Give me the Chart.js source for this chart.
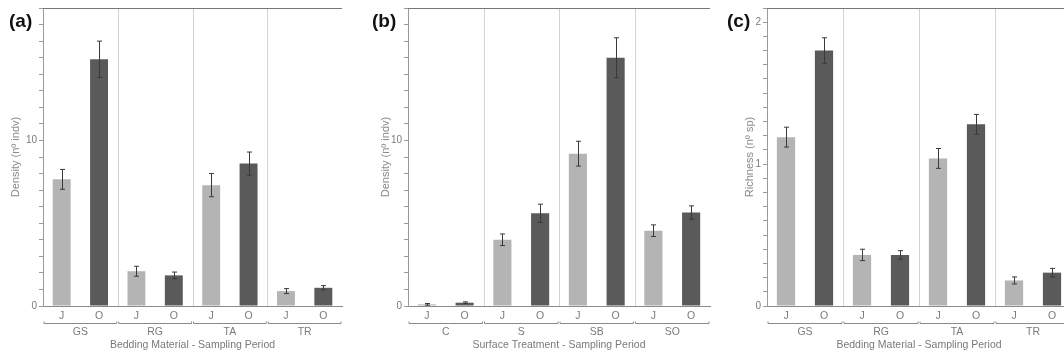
<!DOCTYPE html>
<html><head><meta charset="utf-8">
<script src="https://cdn.jsdelivr.net/npm/chart.js@4"></script>
<style>
html,body{margin:0;padding:0;width:1064px;height:359px;overflow:hidden;background:#fff;position:relative;}
canvas{position:absolute;top:0;}
</style></head><body>
<canvas id="ca" width="355" height="359" style="left:0px"></canvas>
<canvas id="cb" width="357" height="359" style="left:355px"></canvas>
<canvas id="cc" width="362" height="359" style="left:712px"></canvas>
<script>
// ---- data ----
const periods = ['J','O','J','O','J','O','J','O'];
const beddingGroups = ['GS','RG','TA','TR'];
const surfaceGroups = ['C','S','SB','SO'];
const densityBedding    = [7.65, 14.9, 2.1, 1.85, 7.3, 8.6, 0.9, 1.1];
const densityBeddingErr = [0.6, 1.1, 0.3, 0.2, 0.7, 0.7, 0.15, 0.13];
const densitySurface    = [0.1, 0.2, 4.0, 5.6, 9.2, 15.0, 4.55, 5.65];
const densitySurfaceErr = [0.05, 0.05, 0.35, 0.55, 0.75, 1.2, 0.35, 0.4];
const richnessBedding    = [1.19, 1.80, 0.36, 0.36, 1.04, 1.28, 0.18, 0.235];
const richnessBeddingErr = [0.07, 0.09, 0.04, 0.03, 0.07, 0.07, 0.025, 0.03];
const densityTickLabels = [0, 10];
const richnessTickLabels = [0, 1, 2];

const colJ = '#b4b4b4', colO = '#5a5a5a';
const FONT = '"Liberation Sans", Arial, sans-serif';

const decor = {
  id: 'decor',
  beforeDatasetsDraw(chart, args, o) {
    const {ctx, chartArea: {left, right, top, bottom}, scales: {x}} = chart;
    ctx.save();
    ctx.strokeStyle = '#d2d2d2'; ctx.lineWidth = 1;
    for (let g = 1; g < o.groups.length; g++) {
      const px = Math.round((x.getPixelForValue(2*g-1) + x.getPixelForValue(2*g)) / 2) + 0.5;
      ctx.beginPath(); ctx.moveTo(px, top); ctx.lineTo(px, bottom); ctx.stroke();
    }
    ctx.strokeStyle = '#777'; ctx.lineWidth = 1.2;
    ctx.beginPath(); ctx.moveTo(left, top + 0.5); ctx.lineTo(right, top + 0.5); ctx.stroke();
    ctx.restore();
  },
  afterDatasetsDraw(chart, args, o) {
    const {ctx, scales: {x, y}} = chart;
    const data = chart.data.datasets[0].data;
    ctx.save();
    ctx.strokeStyle = '#3a3a3a'; ctx.lineWidth = 1;
    data.forEach((v, i) => {
      const e = o.err[i];
      const px = Math.round(x.getPixelForValue(i)) + 0.5;
      const y1 = y.getPixelForValue(v + e), y2 = y.getPixelForValue(Math.max(0, v - e));
      ctx.beginPath();
      ctx.moveTo(px, y1); ctx.lineTo(px, y2);
      ctx.moveTo(px - 2.5, y1); ctx.lineTo(px + 2.5, y1);
      ctx.moveTo(px - 2.5, y2); ctx.lineTo(px + 2.5, y2);
      ctx.stroke();
    });
    ctx.restore();
  },
  afterDraw(chart, args, o) {
    const {ctx, chartArea: {bottom}, scales: {x}} = chart;
    ctx.save();
    const n = o.groups.length;
    const step = (x.getPixelForValue(1) - x.getPixelForValue(0));
    for (let g = 0; g < n; g++) {
      const x0 = x.getPixelForValue(2*g) - step/2 + 1;
      const x1 = x.getPixelForValue(2*g+1) + step/2 - 1;
      const yy = bottom + 17.5;
      ctx.strokeStyle = '#8a8a8a'; ctx.lineWidth = 1;
      ctx.beginPath();
      ctx.moveTo(x0, yy - 2); ctx.lineTo(x0, yy); ctx.lineTo(x1, yy); ctx.lineTo(x1, yy - 2);
      ctx.stroke();
      ctx.fillStyle = '#7a7a7a';
      ctx.font = '10.5px ' + FONT;
      ctx.textAlign = 'center'; ctx.textBaseline = 'middle';
      ctx.fillText(o.groups[g], (x0 + x1) / 2, bottom + 26.5);
    }
    ctx.fillStyle = '#111';
    ctx.font = 'bold 19px ' + FONT;
    ctx.textAlign = 'left'; ctx.textBaseline = 'middle';
    ctx.fillText(o.label, o.labelX, 21.5);
    ctx.restore();
  }
};

function makePanel(id, cfg) {
  const isInt = v => Math.abs(v - Math.round(v)) < 1e-6;
  new Chart(document.getElementById(id), {
    type: 'bar',
    data: {
      labels: periods,
      datasets: [{
        data: cfg.values,
        backgroundColor: periods.map(p => p === 'J' ? colJ : colO),
        borderWidth: 0,
        categoryPercentage: 1,
        barPercentage: 0.48
      }]
    },
    plugins: [decor],
    options: {
      responsive: false,
      animation: false,
      layout: {padding: {left: 0, right: cfg.padRight, top: 7, bottom: 0}},
      plugins: {
        legend: {display: false},
        tooltip: {enabled: false},
        decor: {groups: cfg.groups, err: cfg.err, label: cfg.label, labelX: cfg.labelX}
      },
      scales: {
        x: {
          type: 'category',
          grid: {display: true, drawOnChartArea: false, drawTicks: false, color: '#888'},
          border: {display: true, color: '#8a8a8a', width: 1},
          ticks: {color: '#7a7a7a', font: {family: FONT, size: 10.5}, padding: 4, autoSkip: false, maxRotation: 0},
          title: {display: true, text: cfg.xTitle, color: '#7a7a7a', font: {family: FONT, size: 10.5}, padding: {top: 0, bottom: 8}},
          afterFit: s => { s.height = 53; }
        },
        y: {
          min: 0, max: cfg.max,
          grid: {display: true, drawOnChartArea: false, drawTicks: true, tickLength: 4, color: '#9a9a9a'},
          border: {display: true, color: '#9a9a9a', width: 1},
          ticks: {
            stepSize: cfg.step, autoSkip: false, padding: 2,
            color: '#7a7a7a', font: {family: FONT, size: 10},
            callback: v => (isInt(v) && cfg.tickLabels.includes(Math.round(v))) ? String(Math.round(v)) : ''
          },
          title: {display: true, text: cfg.yTitle, color: '#8a8a8a', font: {family: FONT, size: 11}, padding: {top: cfg.yTitlePad, bottom: 0}},
          afterFit: s => { s.width = cfg.yWidth; }
        }
      }
    }
  });
}

makePanel('ca', {
  values: densityBedding, err: densityBeddingErr, groups: beddingGroups,
  max: 18, step: 1, tickLabels: densityTickLabels,
  yTitle: 'Density (nº indv)', xTitle: 'Bedding Material - Sampling Period',
  yWidth: 43, padRight: 13, yTitlePad: 9, label: '(a)', labelX: 9
});
makePanel('cb', {
  values: densitySurface, err: densitySurfaceErr, groups: surfaceGroups,
  max: 18, step: 1, tickLabels: densityTickLabels,
  yTitle: 'Density (nº indv)', xTitle: 'Surface Treatment - Sampling Period',
  yWidth: 53, padRight: 2, yTitlePad: 24, label: '(b)', labelX: 17
});
makePanel('cc', {
  values: richnessBedding, err: richnessBeddingErr, groups: beddingGroups,
  max: 2.1, step: 0.1, tickLabels: richnessTickLabels,
  yTitle: 'Richness (nº sp)', xTitle: 'Bedding Material - Sampling Period',
  yWidth: 55, padRight: 3, yTitlePad: 31, label: '(c)', labelX: 15
});
</script>
</body></html>
